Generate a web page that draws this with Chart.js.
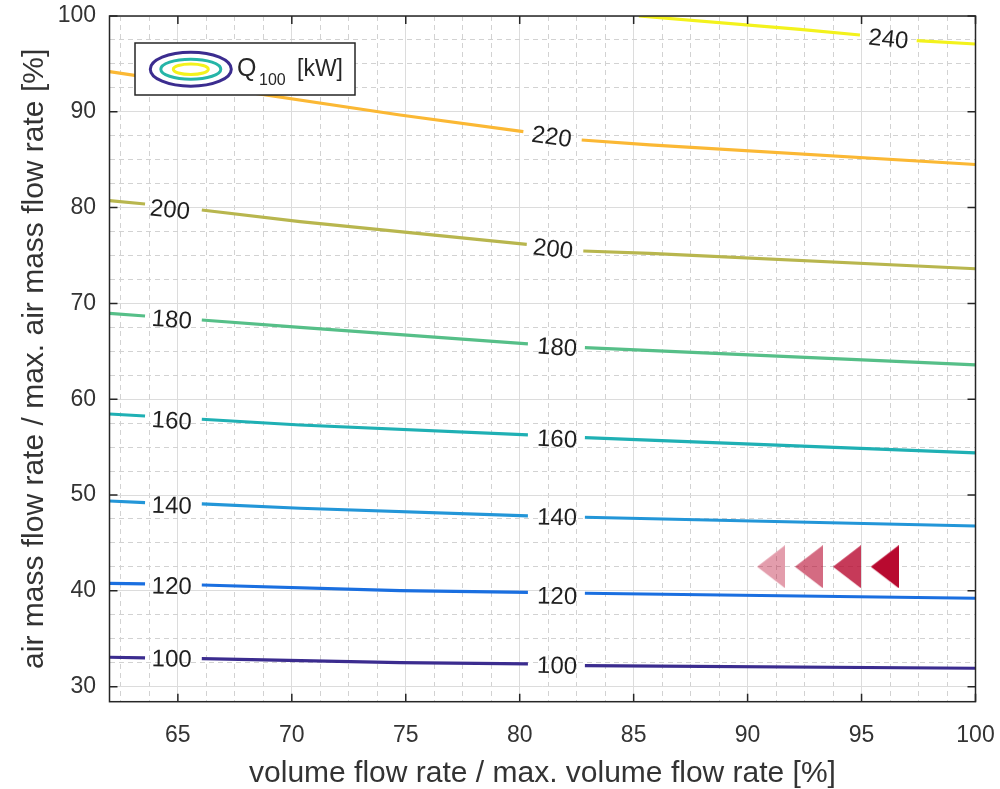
<!DOCTYPE html>
<html>
<head>
<meta charset="utf-8">
<script src="https://cdn.jsdelivr.net/npm/chart.js@4.4.0/dist/chart.umd.min.js"></script>
<style>
  html, body { margin: 0; padding: 0; background: #fff; }
  #wrap { width: 1000px; height: 789px; }
</style>
</head>
<body>
<div id="wrap"><canvas id="chart"></canvas></div>
<script>
// contour levels, Q100 [kW]
const levels = [100, 120, 140, 160, 180, 200, 220, 240];

// contour lines (null = gap for the inline label)
const q100X = [62, 63.56, 64.8, 66.05, 74.75, 80.36, 81.6, 82.86, 100];
const q100Y = [33.07, 33.0, null, 32.92, 32.5, 32.37, null, 32.19, 31.92];
const q120X = [62, 63.56, 64.8, 66.05, 74.75, 80.36, 81.6, 82.86, 100];
const q120Y = [40.79, 40.72, null, 40.61, 40.02, 39.85, null, 39.75, 39.23];
const q140X = [62, 63.56, 64.8, 66.05, 70.36, 80.36, 81.6, 82.86, 100];
const q140Y = [49.38, 49.2, null, 49.07, 48.62, 47.82, null, 47.68, 46.77];
const q160X = [62, 63.56, 64.8, 66.05, 70.36, 80.36, 81.6, 82.86, 100];
const q160Y = [58.46, 58.25, null, 57.91, 57.31, 56.27, null, 55.99, 54.41];
const q180X = [62, 63.56, 64.8, 66.05, 70.36, 80.36, 81.6, 82.86, 100];
const q180Y = [68.97, 68.69, null, 68.27, 67.51, 65.77, null, 65.38, 63.59];
const q200X = [62, 63.56, 64.7, 66.05, 70.36, 80.31, 81.5, 82.79, 85.71, 100];
const q200Y = [80.73, 80.38, null, 79.75, 78.53, 76.17, null, 75.47, 75.23, 73.62];
const q220X = [62, 74.75, 80.16, 81.4, 82.72, 85.71, 100];
const q220Y = [94.19, 89.67, 87.93, null, 87.06, 86.54, 84.5];
const q240X = [85.23, 92.3, 94.93, 96.2, 97.42, 100];
const q240Y = [100, 98.61, 98.02, null, 97.42, 97.08];

const lineX = [q100X, q120X, q140X, q160X, q180X, q200X, q220X, q240X];
const lineY = [q100Y, q120Y, q140Y, q160Y, q180Y, q200Y, q220Y, q240Y];

// inline contour labels
const labelLevel = [100, 100, 120, 120, 140, 140, 160, 160, 180, 180, 200, 200, 220, 240];
const labelX = [64.73, 81.64, 64.73, 81.64, 64.73, 81.64, 64.73, 81.64, 64.73, 81.64, 64.65, 81.46, 81.4, 96.17];
const labelY = [32.79, 32.09, 40.37, 39.33, 48.79, 47.58, 57.66, 55.75, 68.2, 65.32, 79.68, 75.58, 87.3, 97.5];

// triangle markers
const markerX = [91.03, 92.69, 94.36, 96.02];
const markerY = [42.52, 42.52, 42.52, 42.52];
const markerAlpha = [0.4, 0.6, 0.8, 1];

const lineColors = ['#3b2c8f', '#1a6fe0', '#2396d8', '#1fb0b4', '#56bf88', '#b8b64e', '#fbb834', '#f3f21c'];
const FONT = '"Liberation Sans", Arial, Helvetica, sans-serif';

function isMajor(v, step) {
    return Math.abs(v / step - Math.round(v / step)) < 1e-6;
}

function makeTriangle(alpha) {
    const c = document.createElement('canvas');
    c.width = 28;
    c.height = 43;
    const g = c.getContext('2d');
    g.fillStyle = 'rgba(184, 9, 47, ' + alpha + ')';
    g.beginPath();
    g.moveTo(0, 21.5);
    g.lineTo(28, 0);
    g.lineTo(28, 43);
    g.closePath();
    g.fill();
    return c;
}

const datasets = levels.map((lvl, i) => ({
    label: 'Q ' + lvl,
    data: lineX[i].map((xv, k) => ({ x: xv, y: lineY[i][k] })),
    borderColor: lineColors[i],
    borderWidth: 3.2,
    pointRadius: 0,
    tension: 0,
    spanGaps: false,
    showLine: true
}));

datasets.push({
    label: 'markers',
    data: markerX.map((xv, k) => ({ x: xv, y: markerY[k] })),
    pointStyle: markerAlpha.map(a => makeTriangle(a)),
    pointRadius: 14,
    showLine: false
});

// box with inward ticks
const axesBox = {
    id: 'axesBox',
    afterDatasetsDraw(chart) {
        const { ctx, chartArea: a, scales: { x, y } } = chart;
        ctx.save();
        ctx.strokeStyle = '#262626';
        ctx.lineWidth = 1.5;
        ctx.strokeRect(a.left, a.top, a.right - a.left, a.bottom - a.top);
        ctx.beginPath();
        x.ticks.forEach(t => {
            if (!isMajor(t.value, 5)) return;
            const px = x.getPixelForValue(t.value);
            ctx.moveTo(px, a.bottom); ctx.lineTo(px, a.bottom - 8);
            ctx.moveTo(px, a.top); ctx.lineTo(px, a.top + 8);
        });
        y.ticks.forEach(t => {
            if (!isMajor(t.value, 10)) return;
            const py = y.getPixelForValue(t.value);
            ctx.moveTo(a.left, py); ctx.lineTo(a.left + 8, py);
            ctx.moveTo(a.right, py); ctx.lineTo(a.right - 8, py);
        });
        ctx.stroke();
        ctx.restore();
    }
};

// labels sitting in the gaps of the contour lines
const contourLabels = {
    id: 'contourLabels',
    afterDatasetsDraw(chart) {
        const { ctx, scales: { x, y } } = chart;
        ctx.save();
        ctx.font = '24px ' + FONT;
        ctx.fillStyle = '#1f1f1f';
        ctx.textAlign = 'center';
        ctx.textBaseline = 'middle';
        labelLevel.forEach((lvl, i) => {
            const li = levels.indexOf(lvl);
            const xs = lineX[li], ys = lineY[li];
            let j = -1, best = Infinity;
            ys.forEach((v, k) => {
                if (v === null && Math.abs(xs[k] - labelX[i]) < best) {
                    best = Math.abs(xs[k] - labelX[i]);
                    j = k;
                }
            });
            let ang = 0;
            if (j > 0 && j < xs.length - 1) {
                const ax = x.getPixelForValue(xs[j - 1]), ay = y.getPixelForValue(ys[j - 1]);
                const bx = x.getPixelForValue(xs[j + 1]), by = y.getPixelForValue(ys[j + 1]);
                ang = Math.atan2(by - ay, bx - ax);
            }
            ctx.save();
            ctx.translate(x.getPixelForValue(labelX[i]), y.getPixelForValue(labelY[i]));
            ctx.rotate(ang);
            ctx.fillText(String(lvl), 0, 0);
            ctx.restore();
        });
        ctx.restore();
    }
};

// legend with nested ellipses icon
const contourLegend = {
    id: 'contourLegend',
    afterDatasetsDraw(chart) {
        const { ctx } = chart;
        ctx.save();
        ctx.fillStyle = '#ffffff';
        ctx.fillRect(135, 43, 220, 52);
        ctx.strokeStyle = '#262626';
        ctx.lineWidth = 1.5;
        ctx.strokeRect(135, 43, 220, 52);
        const rings = [[40.5, 17, '#3b2c8f'], [30, 10, '#26b5a8'], [17.5, 5.3, '#f3f21c']];
        ctx.lineWidth = 3;
        rings.forEach(r => {
            ctx.beginPath();
            ctx.ellipse(190.8, 69.2, r[0], r[1], 0, 0, Math.PI * 2);
            ctx.strokeStyle = r[2];
            ctx.stroke();
        });
        ctx.fillStyle = '#262626';
        ctx.textBaseline = 'alphabetic';
        ctx.textAlign = 'left';
        ctx.font = '25px ' + FONT;
        ctx.fillText('Q', 237, 76);
        ctx.font = '16px ' + FONT;
        ctx.fillText('100', 259, 85);
        ctx.font = '23px ' + FONT;
        ctx.fillText('[kW]', 297, 76);
        ctx.restore();
    }
};

const gridColor = (step) => (c) => (c.tick && isMajor(c.tick.value, step)) ? '#dcdcdc' : '#d2d2d2';
const gridDash = (step) => (c) => (c.tick && !isMajor(c.tick.value, step)) ? [5, 4] : [];

new Chart(document.getElementById('chart'), {
    type: 'scatter',
    data: { datasets: datasets },
    options: {
        responsive: true,
        maintainAspectRatio: false,
        animation: false,
        layout: { padding: { top: 16, right: 24.5, left: 0, bottom: 0 } },
        plugins: {
            legend: { display: false },
            tooltip: { enabled: false }
        },
        scales: {
            x: {
                type: 'linear',
                min: 62,
                max: 100,
                afterFit(s) {
                    s.height = 87.3;
                    s.paddingLeft = 0;
                    s.paddingRight = 0;
                },
                ticks: {
                    stepSize: 1.25,
                    includeBounds: false,
                    autoSkip: false,
                    maxRotation: 0,
                    maxTicksLimit: 100,
                    padding: 20,
                    color: '#333333',
                    font: { size: 23, family: FONT },
                    callback: v => isMajor(v, 5) ? String(Math.round(v)) : ''
                },
                grid: { drawTicks: false, color: gridColor(5), lineWidth: 1 },
                border: { display: false, dash: gridDash(5) },
                title: {
                    display: true,
                    text: 'volume flow rate / max. volume flow rate [%]',
                    color: '#333333',
                    font: { size: 30, family: FONT },
                    padding: { top: 0, bottom: -3 }
                }
            },
            y: {
                type: 'linear',
                min: 28.43,
                max: 100,
                afterFit(s) {
                    s.width = 109.5;
                    s.paddingTop = 0;
                    s.paddingBottom = 0;
                },
                ticks: {
                    stepSize: 2.5,
                    includeBounds: false,
                    autoSkip: false,
                    maxTicksLimit: 100,
                    padding: 13.5,
                    color: '#333333',
                    font: { size: 23, family: FONT },
                    callback: v => isMajor(v, 10) ? String(Math.round(v)) : ''
                },
                grid: { drawTicks: false, color: gridColor(10), lineWidth: 1 },
                border: { display: false, dash: gridDash(10) },
                title: {
                    display: true,
                    text: 'air mass flow rate / max. air mass flow rate [%]',
                    color: '#333333',
                    font: { size: 30, family: FONT },
                    padding: { top: 17, bottom: 0 }
                }
            }
        }
    },
    plugins: [axesBox, contourLabels, contourLegend]
});
</script>
</body>
</html>
